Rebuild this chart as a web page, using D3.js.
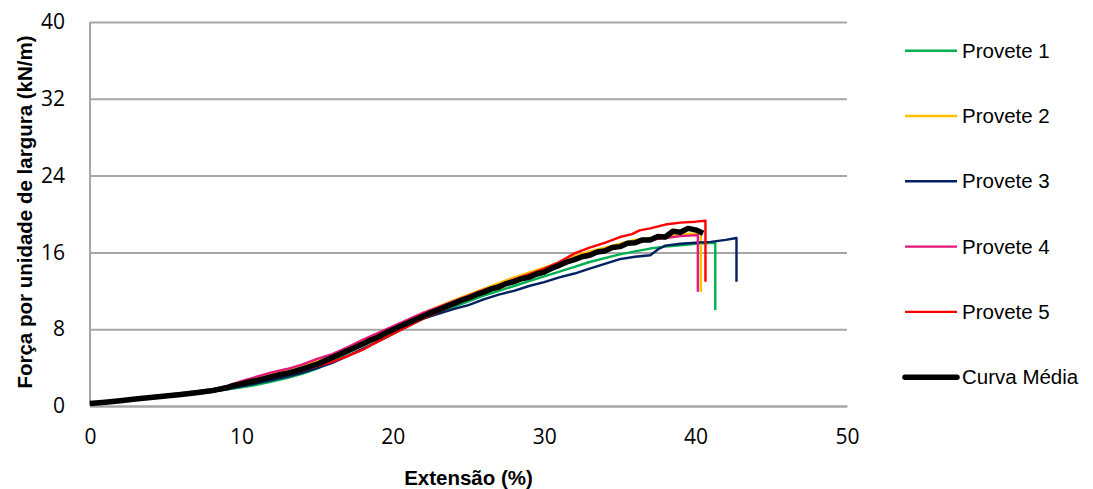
<!DOCTYPE html>
<html>
<head>
<meta charset="utf-8">
<script src="https://cdn.jsdelivr.net/npm/d3@7"></script>
<style>
  body { margin: 0; background: #fff; }
  svg { display: block; }
  .tick text { font-family: "Open Sans", sans-serif; font-size: 21px; fill: #000; }
  .legend text { font-family: "Liberation Sans", Arial, sans-serif; font-size: 20.5px; fill: #000; }
  .title { font-family: "Liberation Sans", Arial, sans-serif; font-size: 20.5px; font-weight: bold; fill: #000; }
</style>
</head>
<body>
<div id="chart"></div>
<script>
var xTicks = [0, 10, 20, 30, 40, 50],
    yTicks = [0, 8, 16, 24, 32, 40],
    seriesNames = ['Provete 1', 'Provete 2', 'Provete 3', 'Provete 4', 'Provete 5', 'Curva Média'];

// extensão (%), força (kN/m)
var provete1 = [[0,0.2],[1,0.36],[2,0.5],[3,0.66],[4,0.82],[5,0.98],[6,1.14],[7,1.3],[8,1.48],[9,1.7],
  [10,1.95],[11,2.2],[12,2.55],[13,2.9],[14,3.35],[15,3.9],[16,4.7],[17,5.5],[18,6.3],[19,7.0],
  [20,7.7],[21,8.4],[22,9.1],[23,9.7],[24,10.3],[25,10.9],[26,11.5],[27,12.0],[28,12.5],[29,13.0],
  [30,13.5],[31,14.0],[32,14.5],[33,15.0],[34,15.4],[35,15.8],[36,16.1],[37,16.4],[38,16.6],[39,16.75],
  [40,16.9],[41.3,17.0],[41.3,10.0]];
var provete2 = [[0,0.25],[1,0.42],[2,0.58],[3,0.75],[4,0.9],[5,1.08],[6,1.25],[7,1.43],[8,1.62],[9,1.95],
  [10,2.4],[11,2.85],[12,3.3],[13,3.7],[14,4.15],[15,4.7],[16,5.25],[17,5.95],[18,6.7],[19,7.45],
  [20,8.2],[21,8.95],[22,9.7],[23,10.35],[24,11.0],[25,11.6],[26,12.2],[27,12.8],[28,13.4],[29,13.9],
  [30,14.4],[31,15.0],[32,15.6],[33,16.1],[34,16.5],[35,16.9],[36,17.3],[37,17.5],[38,17.7],[39,17.9],
  [40.35,18.0],[40.35,11.9]];
var provete3 = [[0,0.2],[1,0.36],[2,0.5],[3,0.66],[4,0.82],[5,0.98],[6,1.14],[7,1.3],[8,1.5],[9,1.75],
  [10,2.05],[11,2.35],[12,2.7],[13,3.05],[14,3.45],[15,3.95],[16,4.5],[17,5.2],[18,5.95],[19,6.7],
  [20,7.5],[21,8.35],[22,9.1],[23,9.6],[24,10.1],[25,10.5],[26,11.1],[27,11.6],[28,12.0],[29,12.5],
  [30,12.9],[31,13.4],[32,13.8],[33,14.3],[34,14.8],[35,15.3],[36,15.55],[37,15.7],[37.6,16.4],[38,16.7],
  [39,16.9],[40,17.0],[41,17.1],[42,17.3],[42.7,17.5],[42.7,12.95]];
var provete4 = [[0,0.3],[1,0.45],[2,0.62],[3,0.8],[4,0.98],[5,1.15],[6,1.33],[7,1.52],[8,1.72],[9,2.05],
  [10,2.6],[11,3.05],[12,3.5],[13,3.85],[14,4.3],[15,4.9],[16,5.4],[17,6.1],[18,6.9],[19,7.6],
  [20,8.3],[21,9.0],[22,9.7],[23,10.3],[24,10.9],[25,11.5],[26,12.1],[27,12.6],[28,13.2],[29,13.7],
  [30,14.2],[31,14.8],[32,15.4],[33,15.9],[34,16.3],[35,16.7],[36,17.0],[37,17.3],[38,17.5],[39,17.7],
  [40.15,17.8],[40.15,11.9]];
var provete5 = [[0,0.22],[1,0.38],[2,0.53],[3,0.7],[4,0.86],[5,1.02],[6,1.18],[7,1.35],[8,1.55],[9,1.85],
  [10,2.2],[11,2.6],[12,2.95],[13,3.3],[14,3.7],[15,4.15],[16,4.6],[17,5.2],[18,5.85],[19,6.7],
  [20,7.5],[21,8.3],[22,9.1],[23,9.8],[24,10.5],[25,11.2],[26,11.8],[27,12.5],[28,13.1],[29,13.7],
  [30,14.3],[31,15.0],[32,15.9],[33,16.5],[34,17.0],[35,17.6],[35.8,17.9],[36.3,18.3],[37,18.5],[38,18.9],
  [39,19.1],[40,19.2],[40.65,19.3],[40.65,12.95]];
var curvaMedia = [[0,0.25],[1,0.4],[2,0.55],[3,0.72],[4,0.88],[5,1.05],[6,1.2],[7,1.38],[8,1.58],[9,1.9],
  [9.5,2.15],[10,2.3],[10.5,2.5],[11,2.65],[11.5,2.85],[12,3.05],[12.5,3.25],[13,3.4],[13.5,3.6],[14,3.85],
  [14.5,4.1],[15,4.35],[15.5,4.7],[16,5.05],[16.5,5.4],[17,5.75],[17.5,6.1],[18,6.45],[18.5,6.85],[19,7.15],
  [19.5,7.6],[20,7.95],[20.5,8.3],[21,8.65],[21.5,9.0],[22,9.35],[22.5,9.7],[23,10.0],[23.5,10.35],[24,10.65],
  [24.5,11.0],[25,11.25],[25.5,11.6],[26,11.85],[26.5,12.2],[27,12.4],[27.5,12.75],[28,12.95],[28.5,13.25],[29,13.4],
  [29.5,13.75],[30,13.95],[30.5,14.35],[31,14.65],[31.5,15.0],[32,15.25],[32.5,15.55],[33,15.7],[33.5,16.05],[34,16.15],
  [34.5,16.5],[35,16.6],[35.5,16.95],[36,17.0],[36.5,17.3],[37,17.3],[37.5,17.65],[38,17.6],[38.5,18.2],[39,18.1],
  [39.5,18.5],[40,18.35],[40.5,18.0]];

var seriesData = [provete1, provete2, provete3, provete4, provete5, curvaMedia];

var colors = ['#00B050', '#FFC000', '#002060', '#E5177A', '#FF0000', '#000000'],
    widths = [2.4, 2.4, 2.4, 2.4, 2.4, 5.5];

var svgWidth = 1093,
    svgHeight = 489,
    margin = {top: 22, right: 246, bottom: 83, left: 90},
    width = svgWidth - margin.left - margin.right,
    height = svgHeight - margin.top - margin.bottom;

var svg = d3.select('#chart').append('svg')
    .attr('width', svgWidth)
    .attr('height', svgHeight);

var g = svg.append('g').attr('transform', 'translate(' + margin.left + ',' + margin.top + ')');

var x = d3.scaleLinear().domain([0, 50]).range([0, width]);
var y = d3.scaleLinear().domain([0, 40]).range([height, 0]);

// gridlines + y labels
var yAxis = g.append('g')
    .call(d3.axisLeft(y).tickValues(yTicks).tickSize(-width).tickPadding(25).tickFormat(d3.format('d')));
yAxis.select('.domain').remove();
yAxis.selectAll('.tick line').attr('stroke', '#A6A6A6').attr('stroke-width', 2);

// left axis line
g.append('line')
    .attr('x1', 0).attr('x2', 0).attr('y1', 0).attr('y2', height)
    .attr('stroke', '#A6A6A6').attr('stroke-width', 2);

var xAxis = g.append('g')
    .attr('transform', 'translate(0,' + height + ')')
    .call(d3.axisBottom(x).tickValues(xTicks).tickSize(0).tickPadding(23).tickFormat(d3.format('d')));
xAxis.select('.domain').attr('stroke', '#A6A6A6').attr('stroke-width', 2);

var line = d3.line().x(function(d){ return x(d[0]); }).y(function(d){ return y(d[1]); });

g.selectAll('.serie')
  .data(seriesData)
  .enter()
  .append('path')
  .attr('class', 'serie')
  .attr('d', line)
  .attr('fill', 'none')
  .attr('stroke', function(d, i){ return colors[i]; })
  .attr('stroke-width', function(d, i){ return widths[i]; })
  .attr('stroke-linejoin', 'round');

// axis titles
svg.append('text')
    .attr('class', 'title')
    .attr('x', margin.left + width / 2)
    .attr('y', 485)
    .attr('text-anchor', 'middle')
    .text('Extensão (%)');

svg.append('text')
    .attr('class', 'title')
    .attr('transform', 'translate(32,' + (margin.top + height / 2 - 2) + ') rotate(-90)')
    .attr('text-anchor', 'middle')
    .text('Força por unidade de largura (kN/m)');

// legend
var legend = svg.append('g').attr('class', 'legend')
    .selectAll('g')
    .data(seriesNames)
    .enter()
    .append('g')
    .attr('transform', function(d, i){ return 'translate(905,' + (50.7 + i * 65.3) + ')'; });

legend.append('line')
    .attr('x1', 0).attr('x2', 52)
    .attr('stroke', function(d, i){ return colors[i]; })
    .attr('stroke-width', function(d, i){ return widths[i]; })
    .attr('stroke-linecap', function(d, i){ return i === 5 ? 'round' : 'butt'; });

legend.append('text')
    .attr('x', 57)
    .attr('dy', '0.35em')
    .text(function(d){ return d; });
</script>
</body>
</html>
